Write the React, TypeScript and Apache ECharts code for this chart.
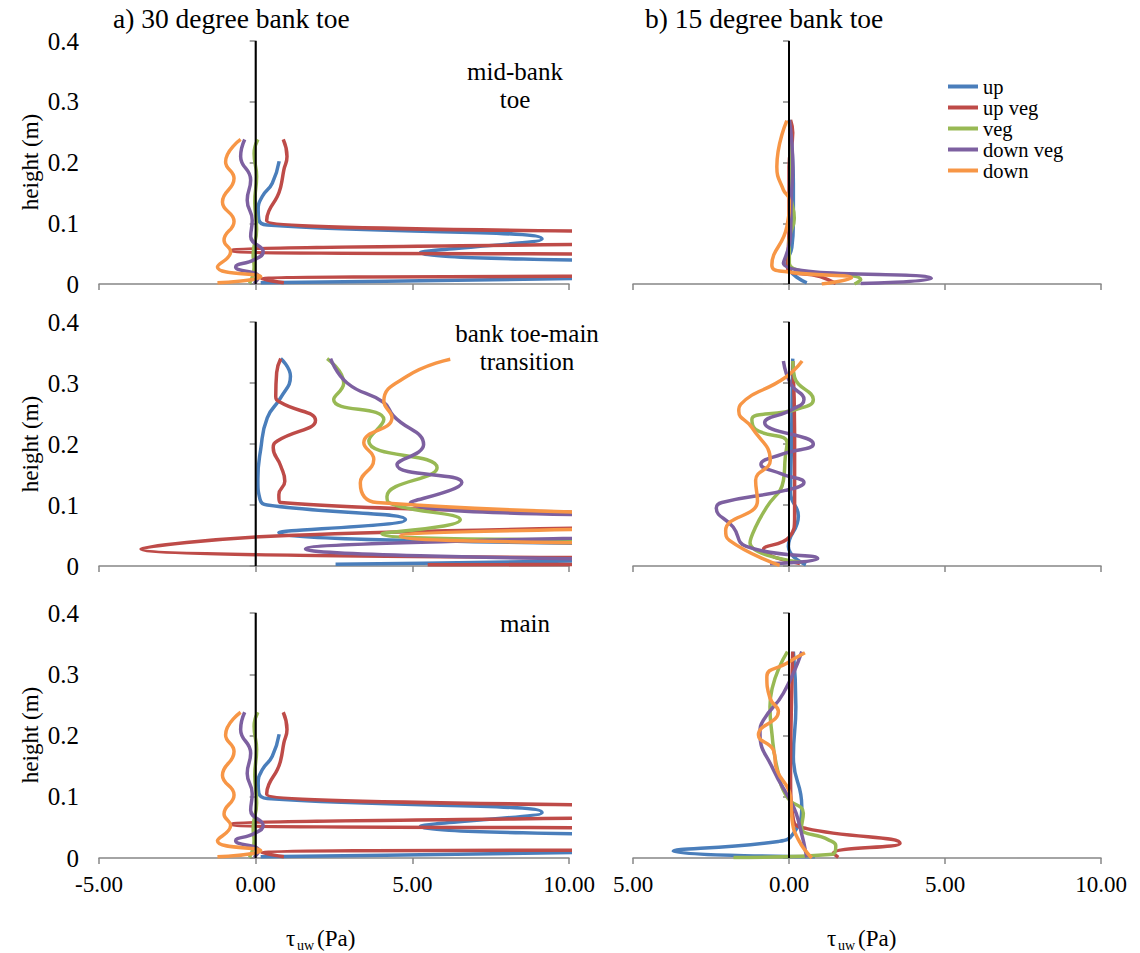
import React, { useEffect, useRef } from "react";
import * as echarts from "echarts";

// ---------- data: [shear stress (Pa), height (m)] ----------
// a) 30 degree bank toe – mid-bank toe (same profiles appear for "main")
const a30MidUp = [[0.16,0.002],[22,0.028],[5.26,0.052],[9.14,0.074],[0.37,0.097],[0.1,0.106],[0.08,0.122],[0.21,0.144],[0.53,0.166],[0.75,0.202]];
const a30MidUpVeg = [[0.9,0.002],[0.2,0.008],[22,0.02],[22,0.04],[-0.8,0.055],[20,0.077],[0.35,0.104],[0.42,0.12],[0.69,0.144],[0.8,0.16],[0.9,0.188],[1.0,0.21],[0.88,0.238]];
const a30MidVeg = [[-0.2,0.001],[-0.05,0.028],[-0.08,0.048],[0.03,0.09],[-0.03,0.135],[0.03,0.177],[-0.05,0.215],[0.07,0.238]];
const a30MidDownVeg = [[-0.05,0.001],[0.1,0.012],[-0.64,0.028],[-0.05,0.04],[0.24,0.053],[-0.16,0.078],[-0.11,0.105],[-0.27,0.138],[-0.16,0.171],[-0.48,0.21],[-0.35,0.238]];
const a30MidDown = [[-1.22,0.002],[0.16,0.012],[-1.22,0.028],[-0.8,0.053],[-1.01,0.072],[-0.69,0.103],[-1.06,0.135],[-0.69,0.174],[-0.96,0.201],[-0.48,0.238]];

// a) 30 degree – bank toe-main transition
const a30TrUp = [[2.55,0.003],[20,0.025],[0.74,0.055],[4.78,0.076],[0.37,0.1],[0.14,0.109],[0.07,0.142],[0.16,0.191],[0.37,0.243],[0.8,0.276],[1.11,0.311],[0.8,0.34]];
const a30TrUpVeg = [[5.49,0.002],[20,0.008],[-3.66,0.028],[1,0.05],[20,0.075],[0.8,0.104],[0.74,0.117],[0.93,0.139],[0.8,0.164],[0.56,0.194],[0.69,0.205],[1.91,0.239],[0.8,0.268],[0.64,0.278],[0.67,0.317],[0.8,0.34]];
const a30TrVeg = [[25,0.005],[25,0.03],[4.03,0.053],[6.53,0.076],[4.25,0.104],[4.19,0.114],[5.79,0.161],[3.61,0.205],[4.09,0.24],[2.49,0.273],[2.81,0.3],[2.28,0.34]];
const a30TrDownVeg = [[25,0.005],[1.59,0.028],[20,0.07],[4.94,0.104],[6.58,0.137],[4.51,0.166],[5.36,0.199],[4.4,0.246],[4.09,0.268],[2.92,0.3],[2.39,0.34]];
const a30TrDown = [[25,0.005],[20,0.025],[4.62,0.049],[20,0.075],[3.87,0.104],[3.34,0.136],[3.77,0.175],[3.45,0.202],[4.35,0.243],[4.09,0.27],[4.83,0.311],[6.21,0.339]];

// b) 15 degree bank toe – mid-bank toe
const b15MidUp = [[0.57,0.002],[-0.07,0.034],[0.09,0.06],[0.14,0.1],[0.14,0.166],[0.1,0.22],[0.03,0.27]];
const b15MidUpVeg = [[1.5,0.001],[1.0,0.012],[-0.05,0.028],[0.0,0.094],[0.0,0.193],[0.12,0.249],[0.05,0.27]];
const b15MidVeg = [[2.1,0.0],[2.3,0.007],[0.01,0.034],[0.01,0.072],[0.17,0.108],[0.05,0.15],[0.06,0.2],[0.01,0.27]];
const b15MidDownVeg = [[2.3,0.001],[4.56,0.009],[-0.18,0.034],[0.05,0.08],[0.07,0.138],[0.12,0.193],[0.08,0.24],[0.01,0.27]];
const b15MidDown = [[1.05,0.0],[2.0,0.01],[-0.07,0.02],[-0.55,0.031],[-0.07,0.094],[0.01,0.138],[-0.18,0.155],[-0.39,0.193],[-0.07,0.269]];

// b) 15 degree – bank toe-main transition
const b15TrUp = [[0.54,0.002],[-0.02,0.032],[0.3,0.082],[0.05,0.12],[0.08,0.2],[0.1,0.28],[0.12,0.34]];
const b15TrUpVeg = [[0.35,0.004],[-0.82,0.027],[0.0,0.047],[0.18,0.08],[0.18,0.216],[0.12,0.336]];
const b15TrVeg = [[0.4,0.006],[-1.25,0.038],[-1.07,0.064],[-0.72,0.096],[-0.18,0.14],[-0.12,0.178],[-0.06,0.202],[-1.07,0.224],[-1.19,0.24],[0.24,0.257],[0.78,0.273],[0.18,0.309],[0.12,0.336]];
const b15TrDownVeg = [[-0.61,0.004],[0.92,0.012],[-1.37,0.032],[-1.79,0.064],[-2.33,0.095],[-2.15,0.104],[-0.12,0.124],[0.48,0.137],[-0.24,0.151],[-0.9,0.167],[-0.24,0.183],[0.78,0.2],[-0.78,0.235],[0.12,0.257],[0.48,0.273],[0.06,0.298],[-0.18,0.336]];
const b15TrDown = [[-0.3,0.001],[-1.91,0.042],[-2.03,0.058],[-1.01,0.107],[-1.07,0.14],[-0.6,0.173],[-1.19,0.227],[-1.61,0.254],[-1.55,0.265],[-0.12,0.309],[0.42,0.336]];

// b) 15 degree – main
const b15MainUp = [[0.83,0.002],[-3.71,0.011],[-0.34,0.027],[0.14,0.04],[0.41,0.084],[0.14,0.165],[0.22,0.247],[0.14,0.337]];
const b15MainUpVeg = [[1.58,0.001],[1.42,0.008],[3.56,0.024],[0.57,0.048],[0.14,0.062],[0.05,0.138],[0.1,0.3],[0.12,0.337]];
const b15MainVeg = [[-1.78,0.001],[1.4,0.006],[1.5,0.02],[1.25,0.03],[0.4,0.05],[0.46,0.073],[-0.07,0.1],[-0.39,0.149],[-0.56,0.209],[-0.61,0.247],[-0.05,0.337]];
const b15MainDownVeg = [[0.57,0.001],[0.35,0.051],[0.14,0.084],[-0.5,0.144],[-0.93,0.204],[-0.82,0.225],[-0.18,0.269],[0.41,0.337]];
const b15MainDown = [[0.73,0.0],[0.3,0.03],[0.1,0.062],[0.05,0.1],[-0.39,0.144],[-0.5,0.176],[-0.98,0.201],[-0.34,0.239],[-0.61,0.261],[-0.71,0.296],[-0.07,0.318],[0.51,0.335]];

const seriesNames = ["up", "up veg", "veg", "down veg", "down"];
const seriesColors = ["#4a7ebb", "#be4b48", "#98b954", "#7d60a0", "#f79646"];
const xTicks = { min: -5, max: 10, interval: 5 };
const yTicks = { min: 0, max: 0.4, interval: 0.1 };

const panels = [
  [a30MidUp, a30MidUpVeg, a30MidVeg, a30MidDownVeg, a30MidDown],
  [b15MidUp, b15MidUpVeg, b15MidVeg, b15MidDownVeg, b15MidDown],
  [a30TrUp, a30TrUpVeg, a30TrVeg, a30TrDownVeg, a30TrDown],
  [b15TrUp, b15TrUpVeg, b15TrVeg, b15TrDownVeg, b15TrDown],
  [a30MidUp, a30MidUpVeg, a30MidVeg, a30MidDownVeg, a30MidDown],
  [b15MainUp, b15MainUpVeg, b15MainVeg, b15MainDownVeg, b15MainDown],
];

const FONT = "'Liberation Serif', 'Times New Roman', serif";
const AXIS_GREY = "#878787";

export default function App() {
  const ref = useRef<HTMLDivElement>(null);
  useEffect(() => {
    if (!ref.current) return;
    const chart = echarts.init(ref.current, undefined, { renderer: "svg" });

    const rows = [
      { top: 41, height: 243 },
      { top: 322, height: 244 },
      { top: 613, height: 245 },
    ];
    const cols = [
      { left: 99, width: 470 },
      { left: 633, width: 468 },
    ];
    const grid: any[] = [];
    const xAxis: any[] = [];
    const yAxis: any[] = [];
    const series: any[] = [];
    for (let r = 0; r < 3; r++) {
      for (let c = 0; c < 2; c++) {
        const i = r * 2 + c;
        grid.push({ left: cols[c].left, width: cols[c].width, top: rows[r].top, height: rows[r].height });
        xAxis.push({
          type: "value",
          gridIndex: i,
          ...xTicks,
          axisLine: { show: true, lineStyle: { color: AXIS_GREY, width: 1.5 } },
          axisTick: { show: true, length: 6, lineStyle: { color: AXIS_GREY, width: 1.5 } },
          splitLine: { show: false },
          axisLabel: {
            show: r === 2,
            margin: 15,
            color: "#000",
            fontFamily: FONT,
            fontSize: 23,
            formatter: (v: number) => (c === 1 ? Math.abs(v).toFixed(2) : v.toFixed(2)),
          },
        });
        yAxis.push({
          type: "value",
          gridIndex: i,
          ...yTicks,
          axisLine: { show: true, lineStyle: { color: AXIS_GREY, width: 1.5 } },
          axisTick: { show: true, length: 6, lineStyle: { color: AXIS_GREY, width: 1.5 } },
          splitLine: { show: false },
          axisLabel: {
            show: c === 0,
            margin: 20,
            color: "#000",
            fontFamily: FONT,
            fontSize: 25,
            formatter: (v: number) => (v === 0 ? "0" : v.toFixed(1)),
          },
        });
        panels[i].forEach((data, k) => {
          series.push({
            type: "line",
            name: seriesNames[k],
            xAxisIndex: i,
            yAxisIndex: i,
            data,
            smooth: 0.5,
            showSymbol: false,
            symbol: "none",
            clip: true,
            color: seriesColors[k],
            lineStyle: { width: 3.5, color: seriesColors[k] },
            z: 2,
          });
        });
        series.push({
          type: "line",
          name: "zero",
          xAxisIndex: i,
          yAxisIndex: i,
          data: [[0, 0], [0, 0.4]],
          showSymbol: false,
          symbol: "none",
          lineStyle: { width: 2, color: "#000" },
          z: 5,
          silent: true,
        });
      }
    }

    const txt = (text: string, x: number, y: number, size: number, extra: any = {}) => ({
      type: "text",
      x,
      y,
      ...extra,
      style: { text, fontFamily: FONT, fontSize: size, fill: "#000", ...(extra.style || {}) },
    });
    const mid = { style: { align: "center", verticalAlign: "middle" } };
    const lm = { style: { align: "left", verticalAlign: "middle" } };
    const rot = { rotation: Math.PI / 2, style: { align: "center", verticalAlign: "middle" } };

    const tauLabel = (x0: number) => [
      txt("τ", x0, 938, 23, lm),
      txt("uw", x0 + 11, 945, 14, lm),
      txt("(Pa)", x0 + 31, 938, 23, lm),
    ];

    chart.setOption({
      animation: false,
      backgroundColor: "#fff",
      grid,
      xAxis,
      yAxis,
      series,
      legend: {
        data: seriesNames,
        orient: "vertical",
        left: 943,
        top: 71,
        icon: "rect",
        itemWidth: 30,
        itemHeight: 4,
        itemGap: 0,
        textStyle: { fontFamily: FONT, fontSize: 20.5, lineHeight: 21, color: "#000", padding: [0, 0, 0, 0] },
      },
      graphic: [
        txt("a) 30 degree bank toe", 113, 4, 27.5),
        txt("b) 15 degree bank toe", 645, 4, 27.5),
        txt("mid-bank", 515, 71, 25, mid),
        txt("toe", 515, 99, 25, mid),
        txt("bank toe-main", 527, 333, 25, mid),
        txt("transition", 527, 361, 25, mid),
        txt("main", 525, 623, 25, mid),
        txt("height (m)", 30, 162, 23, rot),
        txt("height (m)", 30, 444, 23, rot),
        txt("height (m)", 30, 735, 23, rot),
        ...tauLabel(286),
        ...tauLabel(827),
      ],
    });
    return () => chart.dispose();
  }, []);
  return <div ref={ref} style={{ position: "absolute", left: 0, top: 0, width: 1140, height: 953 }} />;
}
